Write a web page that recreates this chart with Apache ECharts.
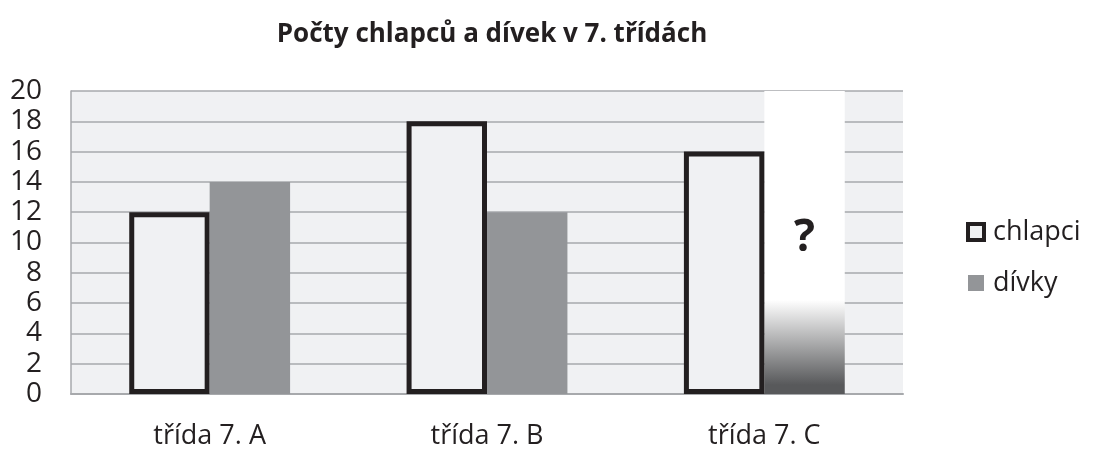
<!DOCTYPE html>
<html>
<head>
<meta charset="utf-8">
<script src="https://cdn.jsdelivr.net/npm/echarts@6/dist/echarts.min.js"></script>
<style>
  html, body { margin: 0; padding: 0; background: #ffffff; }
  #chart { width: 1096px; height: 451px; }
</style>
</head>
<body>
<div id="chart"></div>
<script>
const titleText = 'Počty chlapců a dívek v 7. třídách';
const categories = ['třída 7. A', 'třída 7. B', 'třída 7. C'];
const chlapci = [12, 18, 16];
const divky = [14, 12, '-'];
// unknown count of girls in 7. C: drawn as a full-height column with a fading bottom and "?"
const neznamo = ['-', '-', 20];
const yMin = 0, yMax = 20, yInterval = 2;

const FONT = 'Open Sans';
const DARK = '#231f20';
const BG = '#f0f1f3';

const chart = echarts.init(document.getElementById('chart'), null, { renderer: 'canvas' });
chart.setOption({
  animation: false,
  backgroundColor: '#ffffff',
  textStyle: { fontFamily: FONT },
  title: {
    text: titleText,
    left: 487,
    top: 17,
    textAlign: 'center',
    textStyle: { fontFamily: FONT, fontWeight: 'bold', fontSize: 26, color: DARK }
  },
  legend: {
    orient: 'vertical',
    left: 961,
    top: 213,
    itemWidth: 16,
    itemHeight: 16,
    itemGap: 23,
    icon: 'rect',
    textStyle: { fontFamily: FONT, fontSize: 27, lineHeight: 28, color: DARK, padding: [0, 0, 0, 4] },
    data: [
      { name: 'chlapci', itemStyle: { color: BG, borderColor: DARK, borderWidth: 4 } },
      { name: 'dívky', itemStyle: { color: '#939598', borderWidth: 0 } }
    ]
  },
  grid: {
    left: 71, right: 193, top: 91, bottom: 57,
    show: true, backgroundColor: BG, borderWidth: 0
  },
  xAxis: {
    type: 'category',
    data: categories,
    axisLine: { show: true, lineStyle: { color: '#a7a9ac', width: 2 } },
    axisTick: { show: false },
    axisLabel: { fontFamily: FONT, fontSize: 27, color: DARK, margin: 29 }
  },
  yAxis: {
    type: 'value',
    min: yMin, max: yMax, interval: yInterval,
    axisLine: { show: true, lineStyle: { color: '#a7a9ac', width: 1.5 } },
    axisTick: { show: false },
    axisLabel: { fontFamily: FONT, fontSize: 28, color: DARK, margin: 29 },
    splitLine: { show: true, lineStyle: { color: '#a7a9ac', width: 1.5 } }
  },
  series: [
    {
      name: 'chlapci', type: 'bar', data: chlapci,
      barGap: '0%', barCategoryGap: '42%',
      itemStyle: { color: BG, borderColor: DARK, borderWidth: 5 }
    },
    {
      name: 'dívky', type: 'bar', data: divky, stack: 'g',
      itemStyle: { color: '#939598' }
    },
    {
      name: 'neznámo', type: 'bar', data: neznamo, stack: 'g',
      z: 1,
      itemStyle: {
        color: new echarts.graphic.LinearGradient(0, 0, 0, 1, [
          { offset: 0, color: '#ffffff' },
          { offset: 0.69, color: '#ffffff' },
          { offset: 0.97, color: '#58595b' },
          { offset: 1, color: '#58595b' }
        ])
      },
      label: {
        show: true, position: 'inside', offset: [0, -4],
        formatter: '?', fontFamily: FONT, fontWeight: 'bold', fontSize: 44, color: DARK
      }
    }
  ]
});
</script>
</body>
</html>
